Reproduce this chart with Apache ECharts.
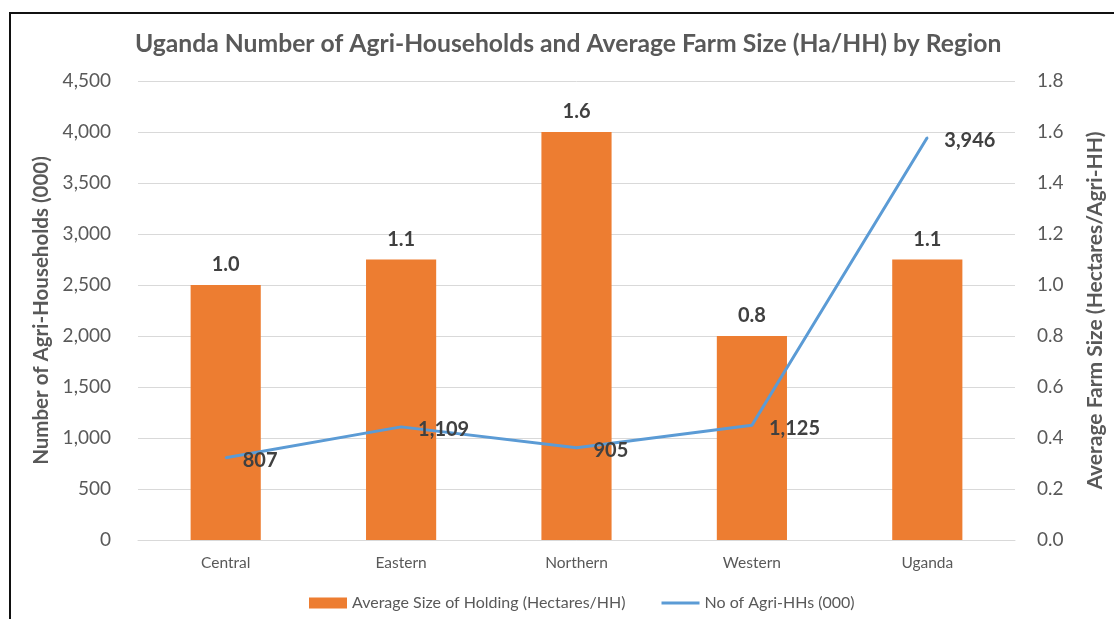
<!DOCTYPE html>
<html>
<head>
<meta charset="utf-8">
<script src="https://cdn.jsdelivr.net/npm/echarts@6/dist/echarts.min.js"></script>
<style>
html,body{margin:0;padding:0;background:#fff;width:1114px;height:619px;overflow:hidden;}
#frame{position:absolute;left:9px;top:12px;width:1200px;height:700px;border-left:2px solid #111;border-top:2px solid #111;}
#chart{position:absolute;left:0;top:0;width:1114px;height:619px;}
</style>
</head>
<body>
<div id="frame"></div>
<div id="chart"></div>
<script>
const categories = ['Central', 'Eastern', 'Northern', 'Western', 'Uganda'];
const avgHolding = [1.0, 1.1, 1.6, 0.8, 1.1];
const agriHHs = [807, 1109, 905, 1125, 3946];
const titleText = 'Uganda Number of Agri-Households and Average Farm Size (Ha/HH) by Region';
const barName = 'Average Size of Holding (Hectares/HH)';
const lineName = 'No of Agri-HHs (000)';

const font = 'Lato, "Open Sans", sans-serif';
const chart = echarts.init(document.getElementById('chart'), null, {renderer: 'canvas'});
chart.setOption({
  animation: false,
  textStyle: {fontFamily: font},
  title: {
    text: titleText, left: 130, top: 27,
    textStyle: {fontFamily: font, fontSize: 24.7, fontWeight: 'bold', color: '#595959'}
  },
  legend: {
    bottom: 3, left: 304, itemGap: 36, itemWidth: 38, itemHeight: 11,
    textStyle: {fontFamily: font, fontSize: 16, color: '#595959'},
    data: [
      {name: barName, icon: 'rect'},
      {name: lineName, icon: 'path://M0,0 L40,0 L40,3 L0,3 Z',
        itemStyle: {color: '#5B9BD5', opacity: 1}}
    ]
  },
  grid: {left: 138, right: 93, top: 81, bottom: 79},
  xAxis: {
    type: 'category', data: categories,
    axisLine: {lineStyle: {color: '#d9d9d9'}},
    axisTick: {show: false},
    axisLabel: {fontFamily: font, fontSize: 15.5, color: '#595959', margin: 15}
  },
  yAxis: [
    {
      type: 'value', min: 0, max: 4500, interval: 500,
      name: 'Number of Agri-Households (000)', nameLocation: 'middle', nameGap: 83,
      nameTextStyle: {fontFamily: font, fontSize: 20.5, fontWeight: 'bold', color: '#595959'},
      axisLine: {show: false}, axisTick: {show: false},
      axisLabel: {fontFamily: font, fontSize: 19, color: '#595959', margin: 27},
      splitLine: {lineStyle: {color: '#d9d9d9'}}
    },
    {
      type: 'value', min: 0, max: 1.8, interval: 0.2, position: 'right',
      name: 'Average Farm Size (Hectares/Agri-HH)', nameLocation: 'middle', nameGap: 70,
      nameTextStyle: {fontFamily: font, fontSize: 21, fontWeight: 'bold', color: '#595959'},
      axisLine: {show: false}, axisTick: {show: false},
      axisLabel: {fontFamily: font, fontSize: 19, color: '#595959', margin: 22,
        formatter: v => v.toFixed(1)},
      splitLine: {show: false}
    }
  ],
  series: [
    {
      name: barName, type: 'bar', yAxisIndex: 1, data: avgHolding,
      barWidth: '40%',
      itemStyle: {color: '#ED7D31'},
      label: {show: true, position: 'top', distance: 10,
        fontFamily: font, fontSize: 20, fontWeight: 'bold', color: '#404040',
        formatter: p => p.value.toFixed(1)}
    },
    {
      name: lineName, type: 'line', yAxisIndex: 0, data: agriHHs,
      symbol: 'circle', symbolSize: 2, showSymbol: true,
      lineStyle: {color: '#5B9BD5', width: 3},
      itemStyle: {color: '#5B9BD5'},
      label: {show: true, position: 'right', distance: 16, offset: [0, 3],
        fontFamily: font, fontSize: 20, fontWeight: 'bold', color: '#404040',
        formatter: p => p.value.toLocaleString('en-US')}
    }
  ]
});
</script>
</body>
</html>
